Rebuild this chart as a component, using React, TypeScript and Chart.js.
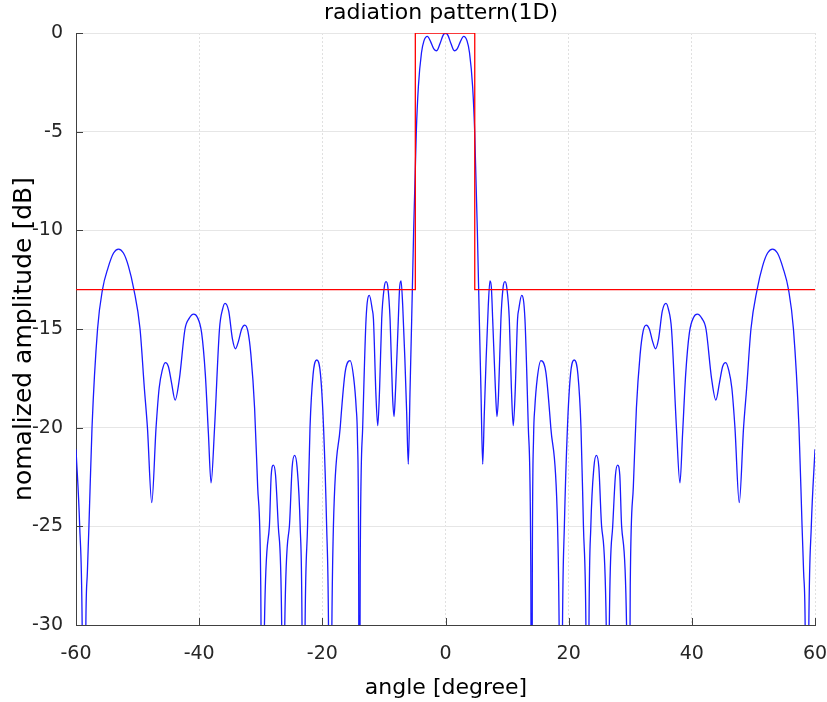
import React, { useEffect, useRef } from 'react';
import { Chart, registerables } from 'chart.js';

Chart.register(...registerables);

// ---- data ----
const angleDeg = [
  -60, -59.4, -59.0, -58.7, -58.4, -58.15, -57.9, -57.4, -56.5, -55.7, -54.8,
  -53.9, -53.1, -52.3, -51.5, -50.6, -49.6, -48.9, -48.4, -47.7, -47.0,
  -46.5, -46.0, -45.5, -45.0, -44.5, -43.9, -43.2, -42.3, -41.6, -40.9,
  -40.3, -39.6, -39.0, -38.5, -38.07, -37.5, -36.7, -36.2, -35.8, -35.2, -34.6,
  -34.1, -33.6, -33.1, -32.6, -32.1, -31.6, -31.0, -30.5, -30.0, -29.7,
  -29.4, -28.6, -28.3, -27.95, -27.6, -27.15, -26.6, -26.35, -26.1, -25.35,
  -24.9, -24.5, -24.1, -23.6, -23.3, -23.1, -22.8, -22.4, -22.0, -21.5,
  -20.9, -20.3, -19.8, -19.3, -19.0, -18.75, -18.45, -18.2, -17.1, -16.3,
  -15.5, -14.9, -14.5, -14.3, -14.1, -14.0, -13.85, -13.45, -12.9, -12.37,
  -11.9, -11.7, -11.3, -11.0, -10.7, -10.36, -9.95, -9.66, -9.35, -9.0,
  -8.6, -8.36, -8.1, -7.66, -7.45, -7.22, -6.95, -6.6, -6.3, -6.04,
  -5.75, -5.49, -5.17, -4.74, -4.4, -3.9, -3.5, -2.95, -2.4, -1.9,
  -1.43, -0.9, -0.4, 0,
  0.4, 0.9, 1.43, 1.9, 2.4, 2.95, 3.5, 3.9, 4.4, 4.74,
  5.17, 5.49, 5.75, 6.04, 6.3, 6.6, 6.95, 7.22, 7.45, 7.66,
  8.1, 8.36, 8.6, 9.0, 9.35, 9.66, 9.95, 10.36, 10.7, 11.0,
  11.3, 11.7, 11.9, 12.37, 12.9, 13.45, 13.85, 14.0, 14.1, 14.3,
  14.5, 14.9, 15.5, 16.3, 17.1, 18.2, 18.45, 18.75, 19.0, 19.3,
  19.8, 20.3, 20.9, 21.5, 22.0, 22.4, 22.8, 23.1, 23.3, 23.6,
  24.1, 24.5, 24.9, 25.35, 26.1, 26.35, 26.6, 27.15, 27.6, 27.95,
  28.3, 28.6, 29.4, 29.7, 30.0, 30.5, 31.0, 31.6, 32.1, 32.6,
  33.1, 33.6, 34.1, 34.6, 35.2, 35.8, 36.2, 36.7, 37.5, 38.07,
  38.5, 39.0, 39.6, 40.3, 40.9, 41.6, 42.3, 43.2, 43.9, 44.5, 45.0,
  45.5, 46.0, 46.5, 47.0, 47.7, 48.4, 48.9, 49.6, 50.6, 51.5,
  52.3, 53.1, 53.9, 54.8, 55.7, 56.5, 57.4, 57.9, 58.15, 58.4, 58.7,
  59.0, 59.4, 60,
];

const patternDb = [
  -21.1, -25, -30, -45, -30, -27.3, -25, -20, -15, -13, -11.9,
  -11.15, -10.95, -11.15, -11.8, -13, -15, -18, -20, -23.8, -20,
  -18, -17.1, -16.7, -16.9, -17.7, -18.6, -17.5, -15, -14.45, -14.25,
  -14.4, -15.2, -17.3, -20.3, -22.8, -20, -15, -14.0, -13.7, -14.1, -15.5,
  -16.0, -15.6, -15.0, -14.8, -15.1, -16.3, -19, -23, -28, -45,
  -30, -25, -22.4, -21.9, -22.4, -25, -30, -45, -30, -25,
  -22, -21.4, -22, -25, -30, -45, -30, -25, -20, -17.3,
  -16.57, -17.3, -20, -25, -30, -45, -30, -25, -20, -17.2,
  -16.6, -17.5, -19, -20.5, -27, -45, -27, -20, -14.5, -13.3,
  -14.0, -14.5, -18.3, -19.9, -18, -14.5, -12.9, -12.6, -12.9, -14.5,
  -18.4, -19.44, -18, -14.5, -12.9, -12.56, -13.8, -16.5, -19.3, -21.85,
  -18, -14.5, -10, -5, -2.7, -1.0, -0.4, -0.17, -0.45, -0.8,
  -0.9, -0.55, -0.12, 0,
  -0.12, -0.55, -0.9, -0.8, -0.45, -0.17, -0.4, -1.0, -2.7, -5,
  -10, -14.5, -18, -21.85, -19.3, -16.5, -13.8, -12.56, -12.9, -14.5,
  -18, -19.44, -18.4, -14.5, -12.9, -12.6, -12.9, -14.5, -18, -19.9,
  -18.3, -14.5, -14.0, -13.3, -14.5, -20, -27, -45, -27, -20.5,
  -19, -17.5, -16.6, -17.2, -20, -25, -30, -45, -30, -25,
  -20, -17.3, -16.57, -17.3, -20, -25, -30, -45, -30, -25,
  -22, -21.4, -22, -25, -30, -45, -30, -25, -22.4, -21.9,
  -22.4, -25, -30, -45, -28, -23, -19, -16.3, -15.1, -14.8,
  -15.0, -15.6, -16.0, -15.5, -14.1, -13.7, -14.0, -15, -20, -22.8,
  -20.3, -17.3, -15.2, -14.4, -14.25, -14.45, -15, -17.5, -18.6, -17.7, -16.9,
  -16.7, -17.1, -18, -20, -23.8, -20, -18, -15, -13, -11.8,
  -11.15, -10.95, -11.15, -11.9, -13, -15, -20, -25, -27.3, -30, -45,
  -30, -25, -21.1,
];

const maskAngle = [-60, -4.9, -4.9, 4.75, 4.75, 60];
const maskDb = [-13, -13, 0, 0, -13, -13];

const xTickValues = [-60, -40, -20, 0, 20, 40, 60];
const yTickValues = [-30, -25, -20, -15, -10, -5, 0];

const titleText = 'radiation pattern(1D)';
const xLabel = 'angle [degree]';
const yLabel = 'nomalized amplitude [dB]';

const FONT = '"DejaVu Sans", sans-serif';

export default function App() {
  const ref = useRef<HTMLCanvasElement>(null);

  useEffect(() => {
    document.body.style.margin = '0';
    const canvas = ref.current;
    if (!canvas) return;

    const decor = {
      id: 'decor',
      afterDraw(chart: any) {
        const { ctx, chartArea, scales } = chart;
        ctx.save();
        ctx.strokeStyle = '#404040';
        ctx.lineWidth = 1;
        for (const v of yTickValues) {
          const y = Math.round(scales.y.getPixelForValue(v)) + 0.5;
          ctx.beginPath();
          ctx.moveTo(chartArea.left, y);
          ctx.lineTo(chartArea.left + 7, y);
          ctx.stroke();
        }
        for (const v of xTickValues) {
          const x = Math.round(scales.x.getPixelForValue(v)) + 0.5;
          ctx.beginPath();
          ctx.moveTo(x, chartArea.bottom);
          ctx.lineTo(x, chartArea.bottom - 7);
          ctx.stroke();
        }
        ctx.fillStyle = '#000';
        ctx.textAlign = 'center';
        ctx.textBaseline = 'alphabetic';
        ctx.font = `22px ${FONT}`;
        ctx.fillText(titleText, 441, 19);
        ctx.fillText(xLabel, 446, 694);
        ctx.translate(24, 339);
        ctx.rotate(-Math.PI / 2);
        ctx.font = `25px ${FONT}`;
        ctx.textBaseline = 'middle';
        ctx.fillText(yLabel, 0, 0);
        ctx.restore();
      },
    };

    const chart = new Chart(canvas, {
      type: 'line',
      data: {
        datasets: [
          {
            label: 'mask',
            data: maskAngle.map((a, i) => ({ x: a, y: maskDb[i] })),
            borderColor: '#ff0000',
            borderWidth: 1.3,
            pointRadius: 0,
            tension: 0,
            order: 0,
          },
          {
            label: 'pattern',
            data: angleDeg.map((a, i) => ({ x: a, y: patternDb[i] })),
            borderColor: '#1a1aff',
            borderWidth: 1.3,
            pointRadius: 0,
            cubicInterpolationMode: 'monotone',
            order: 1,
          },
        ],
      },
      options: {
        animation: false,
        responsive: false,
        events: [],
        layout: { padding: { top: 33, right: 12, left: 0, bottom: 0 } },
        plugins: {
          legend: { display: false },
          tooltip: { enabled: false },
          title: { display: false },
        },
        scales: {
          x: {
            type: 'linear',
            min: -60,
            max: 60,
            afterFit: (s: any) => {
              s.height = 77;
              s.paddingLeft = 0;
              s.paddingRight = 0;
            },
            ticks: {
              stepSize: 20,
              autoSkip: false,
              maxRotation: 0,
              padding: 18,
              color: '#262626',
              font: { family: FONT, size: 19 },
            },
            grid: { color: '#e0e0e0', drawTicks: false, lineWidth: 1 },
            border: { display: true, color: '#404040', width: 1, dash: [2, 2] },
          },
          y: {
            type: 'linear',
            min: -30,
            max: 0,
            afterFit: (s: any) => {
              s.width = 76;
            },
            ticks: {
              stepSize: 5,
              padding: 13,
              color: '#262626',
              font: { family: FONT, size: 19 },
            },
            grid: { color: '#e6e6e6', drawTicks: false, lineWidth: 1 },
            border: { display: true, color: '#404040', width: 1 },
          },
        },
      },
      plugins: [decor],
    } as any);

    return () => chart.destroy();
  }, []);

  return (
    <div style={{ position: 'absolute', left: 0, top: 0, width: 827, height: 702 }}>
      <canvas ref={ref} width={827} height={702} style={{ display: 'block' }} />
    </div>
  );
}
